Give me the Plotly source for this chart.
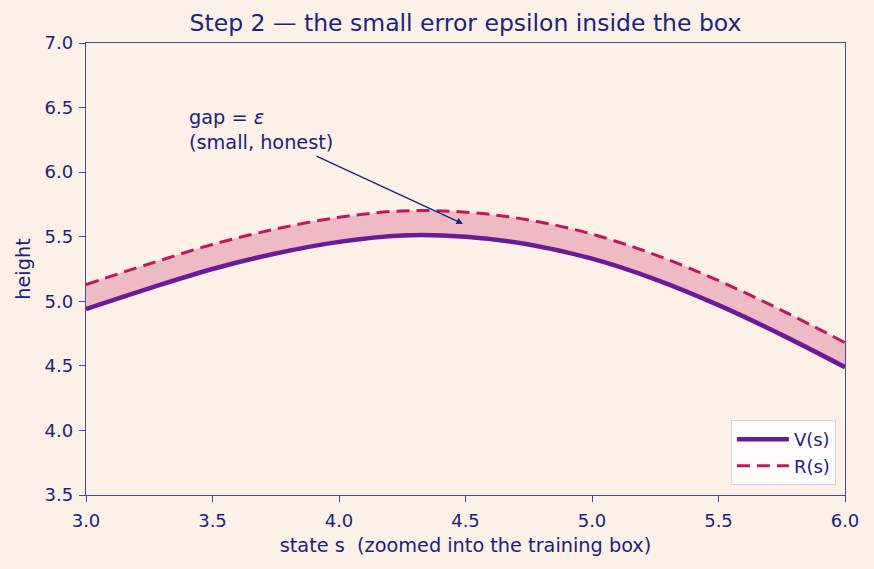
import plotly.graph_objects as go

s_vals = [3.0, 3.25, 3.5, 3.75, 4.0, 4.25, 4.5, 4.75, 5.0, 5.25, 5.5, 5.75, 6.0]
v_vals = [4.94, 5.10, 5.25, 5.37, 5.46, 5.51, 5.50, 5.44, 5.33, 5.17, 4.97, 4.74, 4.49]
r_vals = [5.13, 5.29, 5.44, 5.56, 5.65, 5.70, 5.69, 5.63, 5.52, 5.36, 5.16, 4.93, 4.68]

x_ticks = [3.0, 3.5, 4.0, 4.5, 5.0, 5.5, 6.0]
y_ticks = [3.5, 4.0, 4.5, 5.0, 5.5, 6.0, 6.5, 7.0]

NAVY = "#1a237e"
SPINE = "#4a4a8f"
BG = "#fdf0e6"
PURPLE = "#6a1b9a"
CRIMSON = "#c2185b"
FONT = "DejaVu Sans"

fig = go.Figure()
fig.add_trace(go.Scatter(x=s_vals, y=v_vals, mode="lines", line=dict(color="rgba(0,0,0,0)", width=0, shape="spline"),
                         showlegend=False, hoverinfo="skip"))
fig.add_trace(go.Scatter(x=s_vals, y=r_vals, mode="lines", line=dict(color="rgba(0,0,0,0)", width=0, shape="spline"),
                         fill="tonexty", fillcolor="rgba(194,24,91,0.25)", showlegend=False, hoverinfo="skip"))
fig.add_trace(go.Scatter(x=s_vals, y=v_vals, mode="lines", name="V(s)",
                         line=dict(color=PURPLE, width=4.5, shape="spline")))
fig.add_trace(go.Scatter(x=s_vals, y=r_vals, mode="lines", name="R(s)",
                         line=dict(color=CRIMSON, width=3, dash="13px,7px", shape="spline")))

fig.add_annotation(x=4.49, y=5.6, ax=3.905, ay=6.13, axref="x", ayref="y", xref="x", yref="y",
                   text="", showarrow=True, arrowhead=2, arrowsize=1, arrowwidth=1.3, arrowcolor=NAVY)
fig.add_annotation(x=3.4, y=6.53, xref="x", yref="y", text="gap = <i>ε</i><br>(small, honest)",
                   showarrow=False, xanchor="left", yanchor="top", align="left",
                   font=dict(family=FONT, size=19.3, color=NAVY))

axis_common = dict(showgrid=False, zeroline=False, showline=True, linecolor=SPINE, linewidth=1.3,
                   mirror=True, ticks="outside", ticklen=6, tickcolor=SPINE, tickwidth=1.3,
                   tickfont=dict(family=FONT, size=18, color=NAVY))

fig.update_layout(
    width=874, height=569,
    paper_bgcolor=BG, plot_bgcolor=BG,
    margin=dict(l=86, r=29, t=43, b=74),
    title=dict(text="Step 2 — the small error epsilon inside the box", x=0.5, xanchor="center", xref="paper",
               y=1 - 23 / 569, yanchor="middle", font=dict(family=FONT, size=23.5, color=NAVY)),
    xaxis=dict(range=[3.0, 6.0], tickvals=x_ticks, ticktext=[f"{t:.1f}" for t in x_ticks],
               ticklabelstandoff=3,
               title=dict(text="state s  (zoomed into the training box)", font=dict(family=FONT, size=19.3, color=NAVY),
                          standoff=8),
               **axis_common),
    yaxis=dict(range=[3.5, 7.0], tickvals=y_ticks, ticktext=[f"{t:.1f}" for t in y_ticks],
               ticklabelstandoff=2,
               title=dict(text="height", font=dict(family=FONT, size=19.3, color=NAVY), standoff=8),
               **axis_common),
    legend=dict(x=0.988, y=0.022, xanchor="right", yanchor="bottom", bgcolor="rgba(255,255,255,0.85)",
                traceorder="normal", itemwidth=52,
                bordercolor="#d8d8d8", borderwidth=1, font=dict(family=FONT, size=18, color=NAVY)),
)

fig.write_html("out.html")
